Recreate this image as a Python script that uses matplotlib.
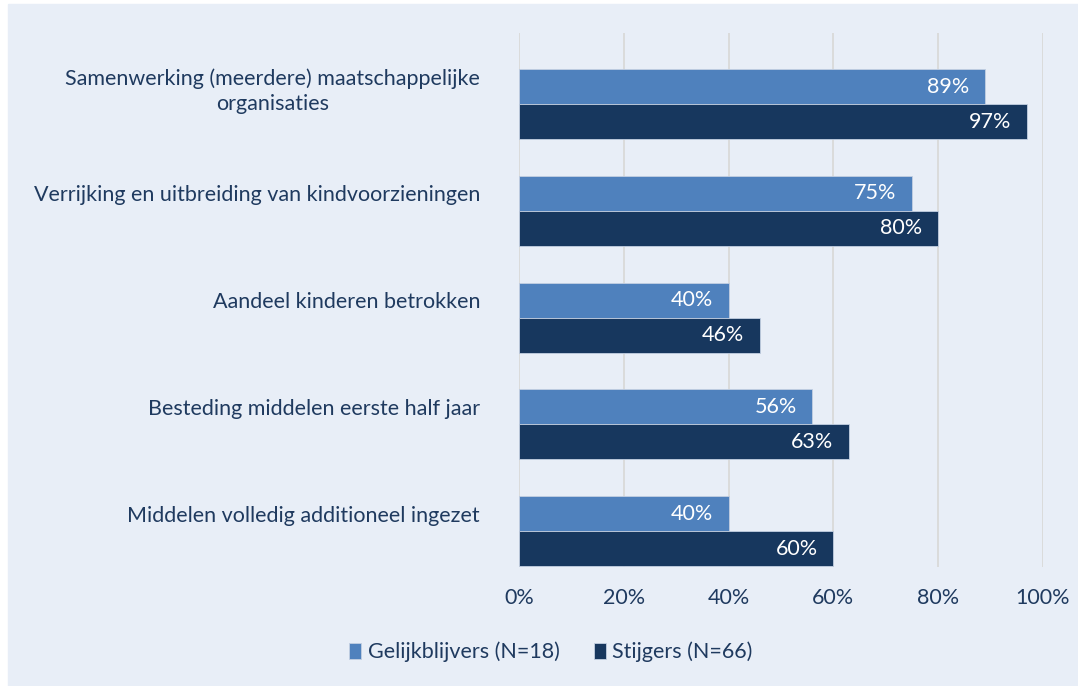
import numpy as np
import matplotlib
matplotlib.use("Agg")
from matplotlib import pyplot as plt
from matplotlib.patches import Rectangle

# ---------------------------------------------------------------------------
# Data
# ---------------------------------------------------------------------------
categories = [
    "Samenwerking (meerdere) maatschappelijke\norganisaties",
    "Verrijking en uitbreiding van kindvoorzieningen",
    "Aandeel kinderen betrokken",
    "Besteding middelen eerste half jaar",
    "Middelen volledig additioneel ingezet",
]
gelijkblijvers = [89, 75, 40, 56, 40]
stijgers = [97, 80, 46, 63, 60]
series_names = ["Gelijkblijvers (N=18)", "Stijgers (N=66)"]
xticks = [0, 20, 40, 60, 80, 100]

LIGHT = "#4f81bd"
DARK = "#17375e"
TEXT = "#1f3a5f"
BG = "#e8eef7"
GRID = "#d9d9d9"
FS = 15.5

plt.rcParams["font.family"] = ["Lato", "DejaVu Sans"]

fig = plt.figure(figsize=(10.78, 6.86), dpi=100, facecolor="white")
# light blue panel behind the chart (small white margin at left and top)
fig.patches.append(Rectangle((8 / 1078, 0), 1 - 8 / 1078, 1 - 4 / 686,
                             transform=fig.transFigure, color=BG, zorder=-10))

ax = fig.add_axes([519 / 1078, 1 - 567 / 686, (1043 - 519) / 1078, (567 - 33) / 686])
ax.set_facecolor("none")

n = len(categories)
band = np.arange(n)
h = 0.328
y_light = band + 0.337 + h / 2
y_dark = y_light + h

ax.barh(y_light, gelijkblijvers, height=h, color=LIGHT, edgecolor="#c3cfe2",
        linewidth=0.6, label=series_names[0], zorder=3)
ax.barh(y_dark, stijgers, height=h, color=DARK, edgecolor="#c3cfe2",
        linewidth=0.6, label=series_names[1], zorder=3)

for y, v in zip(y_light, gelijkblijvers):
    ax.text(v - 3, y, f"{v}%", ha="right", va="center", color="white",
            fontsize=FS, zorder=4)
for y, v in zip(y_dark, stijgers):
    ax.text(v - 3, y, f"{v}%", ha="right", va="center", color="white",
            fontsize=FS, zorder=4)

ax.set_xlim(0, 100)
ax.set_ylim(n, 0)
ax.set_xticks(xticks)
ax.set_xticklabels([f"{t}%" for t in xticks])
ax.set_yticks(band + 0.5)
ax.set_yticklabels(categories, multialignment="center", linespacing=1.35)
ax.tick_params(axis="both", length=0, labelsize=FS, labelcolor=TEXT)
ax.tick_params(axis="y", pad=28)
ax.tick_params(axis="x", pad=15)
ax.grid(axis="x", color=GRID, linewidth=1.3, zorder=0)
for s in ax.spines.values():
    s.set_visible(False)

leg = fig.legend(loc="center", bbox_to_anchor=(551 / 1078, 1 - 652 / 686),
                 ncol=2, frameon=False, fontsize=FS, handlelength=0.55,
                 handleheight=0.75, handletextpad=0.3, columnspacing=1.6)
for t in leg.get_texts():
    t.set_color(TEXT)

fig.savefig("out.png", dpi=100, facecolor="white")
